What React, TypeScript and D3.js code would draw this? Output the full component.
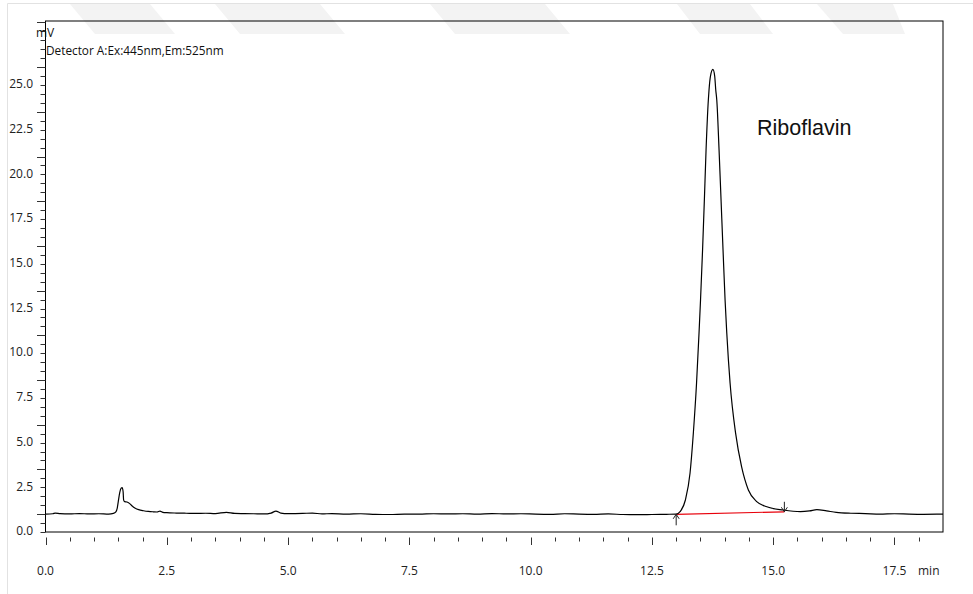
import React from "react";
import * as d3 from "d3";

const width = 973;
const height = 594;

// chromatogram trace (min, mV)
const traceTime = [
  0.0, 0.15, 0.2, 0.3, 0.5, 0.7, 0.9, 1.1, 1.3, 1.4, 1.45, 1.48, 1.5, 1.53, 1.56, 1.58, 1.6, 1.61, 1.63,
  1.68, 1.73, 1.78, 1.85, 1.92, 2.02, 2.12, 2.22, 2.3, 2.36, 2.42, 2.5, 2.7, 2.9, 3.1, 3.3, 3.5, 3.73,
  3.9, 4.1, 4.3, 4.5, 4.65, 4.75, 4.85, 5.0, 5.3, 5.5, 5.7, 5.9, 6.2, 6.5, 6.8, 7.1, 7.4, 7.7, 8.0, 8.3,
  8.6, 8.9, 9.2, 9.5, 9.8, 10.1, 10.4, 10.7, 11.0, 11.3, 11.6, 11.9, 12.2, 12.5, 12.8, 13.0, 13.08,
  13.19, 13.286, 13.354, 13.42, 13.471, 13.502, 13.544, 13.581, 13.616, 13.663, 13.677, 13.707, 13.757,
  13.794, 13.816, 13.837, 13.884, 13.925, 13.966, 14.008, 14.043, 14.111, 14.224, 14.348, 14.488, 14.66,
  14.87, 15.21, 15.56, 15.75, 15.9, 16.1, 16.3, 16.6, 16.9, 17.2, 17.5, 17.8, 18.1, 18.5,
];
const traceMv = [
  1.0, 1.02, 1.06, 1.03, 1.01, 1.03, 1.01, 1.02, 1.0, 1.04, 1.12, 1.35, 1.7, 2.2, 2.45, 2.48, 2.25, 1.8, 1.7,
  1.68, 1.6, 1.47, 1.33, 1.25, 1.19, 1.15, 1.13, 1.12, 1.17, 1.1, 1.08, 1.06, 1.05, 1.04, 1.05, 1.03, 1.1,
  1.04, 1.03, 1.02, 1.01, 1.06, 1.17, 1.06, 1.03, 1.04, 1.06, 1.01, 1.03, 1.0, 1.02, 0.99, 0.98, 1.0, 1.0, 1.02, 1.01,
  1.02, 1.0, 1.03, 1.01, 1.02, 1.0, 0.99, 1.02, 1.0, 0.99, 1.01, 0.98, 0.97, 0.98, 0.99, 1.0, 1.14,
  1.79, 3.3, 5.54, 8.33, 11.13, 12.98, 15.77, 18.57, 21.36, 24.16, 24.72, 25.5, 25.87,
  25.5, 24.72, 24.16, 21.36, 18.57, 15.77, 12.98, 11.13, 8.33, 5.54, 3.65, 2.35, 1.7,
  1.41, 1.23, 1.14, 1.18, 1.25, 1.18, 1.1, 1.05, 1.03, 1.0, 1.02, 1.0, 0.99, 1.0,
];

// integration baseline of the peak
const peakName = "Riboflavin";
const peakStart = [13.0, 0.99];
const peakEnd = [15.23, 1.13];

const xTickLabels = ["0.0", "2.5", "5.0", "7.5", "10.0", "12.5", "15.0", "17.5"];
const yTickLabels = ["0.0", "2.5", "5.0", "7.5", "10.0", "12.5", "15.0", "17.5", "20.0", "22.5", "25.0"];

const x = d3.scaleLinear().domain([0, 18.5]).range([45.5, 943]);
const y = d3.scaleLinear().domain([0, 28.58]).range([532, 21]);

const labelFont = "'Open Sans', 'Noto Sans', sans-serif";

export default function App() {
  const pts: [number, number][] = traceTime.map((t, i) => [t, traceMv[i]]);
  const line = d3
    .line<[number, number]>()
    .x(d => x(d[0]))
    .y(d => y(d[1]))
    .curve(d3.curveMonotoneX);

  const xTicks = d3.range(0, 37).map(i => i * 0.5);
  const yTicks = d3.range(0, 58).map(i => i * 0.5);

  const sx = x(peakStart[0]);
  const sy = y(peakStart[1]);
  const ex = x(peakEnd[0]);
  const ey = y(peakEnd[1]);

  return (
    <svg
      width={width}
      height={height}
      style={{ position: "absolute", left: 0, top: 0, background: "#fff" }}
    >
      {/* faint page decoration */}
      <g fill="#f3f3f3">
        <polygon points="70,4 150,4 175,34 95,34" />
        <polygon points="215,4 320,4 345,34 240,34" />
        <polygon points="430,4 545,4 570,34 455,34" />
        <polygon points="677,4 750,4 773,34 700,34" />
        <polygon points="817,4 893,4 905,34 843,34" />
      </g>
      <line x1={7.5} y1={3.5} x2={973} y2={3.5} stroke="#e2e2e2" />
      <line x1={7.5} y1={3.5} x2={7.5} y2={594} stroke="#e2e2e2" />

      {/* frame */}
      <rect x={45.5} y={21} width={943 - 45.5} height={532 - 21} fill="none" stroke="#000" strokeWidth={1} />

      {/* y ticks */}
      <g stroke="#333" strokeWidth={1}>
        {yTicks.map(v => {
          const long = Math.abs(((v - 1) / 2.5) - Math.round((v - 1) / 2.5)) < 1e-6;
          const yy = Math.round(y(v)) + 0.5;
          return <line key={v} x1={long ? 37 : 40.5} x2={45.5} y1={yy} y2={yy} />;
        })}
      </g>
      <g fontFamily={labelFont} fontSize={12} fill="#222" textAnchor="end">
        {yTickLabels.map(l => (
          <text key={l} x={33} y={y(+l)} dominantBaseline="middle">
            {l}
          </text>
        ))}
      </g>

      {/* x ticks */}
      <g stroke="#333" strokeWidth={1}>
        {xTicks.map(t => {
          const long = Math.abs(t / 2.5 - Math.round(t / 2.5)) < 1e-6;
          const xx = Math.round(x(t)) + 0.5;
          return <line key={t} x1={xx} x2={xx} y1={537.5} y2={long ? 545 : 541.5} />;
        })}
      </g>
      <g fontFamily={labelFont} fontSize={12} fill="#222" textAnchor="middle">
        {xTickLabels.map(l => (
          <text key={l} x={x(+l)} y={572} dominantBaseline="middle">
            {l}
          </text>
        ))}
        <text x={918} y={572} textAnchor="start" dominantBaseline="middle">
          min
        </text>
      </g>

      <text x={36} y={34} fontFamily={labelFont} fontSize={12} fill="#111" dominantBaseline="middle">
        mV
      </text>
      <text x={46} y={52} fontFamily={labelFont} fontSize={11.8} fill="#111" dominantBaseline="middle">
        Detector A:Ex:445nm,Em:525nm
      </text>

      {/* integration baseline */}
      <line x1={sx} y1={sy} x2={ex} y2={ey} stroke="#e8000b" strokeWidth={1.2} />

      {/* trace */}
      <path d={line(pts) || ""} fill="none" stroke="#000" strokeWidth={1.2} />

      {/* start / end markers */}
      <g stroke="#222" strokeWidth={1} fill="none">
        <line x1={sx} y1={sy} x2={sx} y2={sy + 11} />
        <polyline points={`${sx - 3},${sy + 4.5} ${sx},${sy} ${sx + 3},${sy + 4.5}`} />
        <line x1={ex} y1={ey} x2={ex} y2={ey - 10} />
        <polyline points={`${ex - 3},${ey - 4.5} ${ex},${ey} ${ex + 3},${ey - 4.5}`} />
      </g>

      <text x={757} y={135} fontFamily="'Liberation Sans', Arial, sans-serif" fontSize={21.5} fill="#111">
        {peakName}
      </text>
    </svg>
  );
}
